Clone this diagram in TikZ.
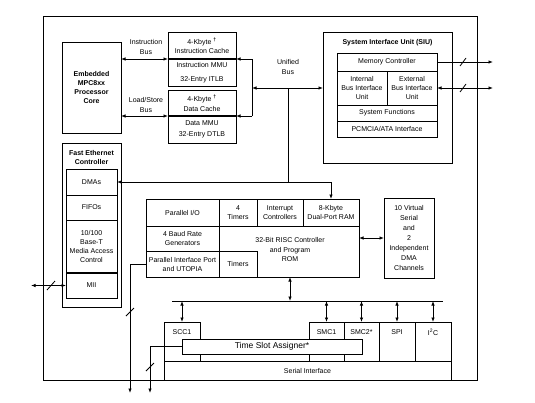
\documentclass[tikz,border=0pt]{standalone}
\usepackage{fontspec}
\setmainfont{Liberation Sans}
\usetikzlibrary{arrows.meta}
\newcommand\bx[7][]{%
  \pgfmathsetmacro\bxw{#5-(#3)}%
  \pgfmathsetmacro\bxh{#6-(#4)}%
  \pgfmathsetmacro\bxcx{(#3+#5)/2}%
  \pgfmathsetmacro\bxcy{(#4+#6)/2}%
  \node[box, minimum width=\bxw pt, minimum height=\bxh pt, #1] (#2) at (\bxcx,\bxcy) {#7};}
\begin{document}
\begin{tikzpicture}[x=1pt,y=-1pt, line width=0.8pt, font=\fontsize{7}{9}\selectfont,
 box/.style={draw, inner sep=0pt, outer sep=0pt, align=center, fill=white},
 txt/.style={inner sep=0pt, align=center},
 bld/.style={font=\fontsize{7}{9}\selectfont\bfseries},
 arr/.style={-{Latex[length=4.5pt,width=3.5pt]}},
 darr/.style={{Latex[length=4.5pt,width=3.5pt]}-{Latex[length=4.5pt,width=3.5pt]}},
 heavy/.style={line width=1.8pt}]
\useasboundingbox (0,0) rectangle (535,402);
% outer frame
\bx{frame}{43}{16}{477}{380}{}
% core
\bx[bld]{core}{62}{42}{121}{133}{Embedded\\MPC8xx\\Processor\\Core}
% caches
\bx{icache}{168}{32}{236}{59}{4-Kbyte \textsuperscript{\textbf{†}}\\Instruction Cache}
\bx[font=\fontsize{7}{14}\selectfont]{immu}{168}{59}{236}{86}{Instruction MMU\\32-Entry ITLB}
\bx[font=\fontsize{7}{10}\selectfont]{dcache}{168}{90}{236}{116}{4-Kbyte \textsuperscript{\textbf{†}}\\Data Cache}
\bx[font=\fontsize{7}{11}\selectfont]{dmmu}{168}{116}{236}{143}{Data MMU\\32-Entry DTLB}
\draw[heavy] (icache.south west) -- (icache.south east);
\draw[heavy] (dcache.south west) -- (dcache.south east);
\node[txt, font=\fontsize{7}{10}\selectfont] (ibus) at (146,47) {Instruction\\Bus};
\node[txt, font=\fontsize{7}{10}\selectfont] (lsbus) at (146,105) {Load/Store\\Bus};
\draw[darr] (core.east |- icache.south) -- (icache.south west);
\draw[darr] (core.east |- dcache.south) -- (dcache.south west);
% SIU
\bx{siu}{323}{32}{452}{163}{}
\node[txt,bld] (siut) at (387.5,43) {System Interface Unit (SIU)};
\bx{memctl}{337}{53}{437}{71}{Memory Controller}
\bx{ibiu}{337}{71}{387}{105}{Internal\\Bus Interface\\Unit}
\bx{ebiu}{387}{71}{437}{105}{External\\Bus Interface\\Unit}
\bx{sysfn}{337}{105}{437}{121}{System Functions}
\bx{pcmcia}{337}{121}{437}{137}{PCMCIA/ATA Interface}
\coordinate (mout) at (493,62);
\coordinate (eout) at (493,88);
\draw[arr] (memctl.east) -- (mout);
\draw[darr] (ebiu.east) -- (eout);
\draw (460,66) -- (466,58);
\draw (460,92) -- (466,84);
% FEC
\bx{fec}{62}{143}{121}{307}{}
\node[txt,bld] (fect) at (91.5,157.5) {Fast Ethernet\\Controller};
\bx{dmas}{66}{169}{117}{195}{DMAs}
\bx{fifos}{66}{195}{117}{220}{FIFOs}
\bx{mac}{66}{220}{117}{273}{10/100\\Base-T\\Media Access\\Control}
\bx{mii}{66}{273}{117}{298}{MII}
\draw[heavy] (mac.south west) -- (mac.south east);
\coordinate (miiout) at (31,285.5);
\draw[darr] (miiout) -- (mii.west);
\draw (47,290) -- (55,281);
% CPM
\bx{cpm}{146}{199}{359}{277}{}
\bx{pio}{146}{199}{219}{226}{Parallel I/O}
\bx{t4}{219}{199}{257}{226}{4\\Timers}
\bx{ic}{257}{199}{303}{226}{Interrupt\\Controllers}
\bx{dpram}{303}{199}{359}{226}{8-Kbyte\\Dual-Port RAM}
\bx{brg}{146}{226}{219}{251}{4 Baud Rate\\Generators}
\bx{pip}{146}{251}{219}{277}{Parallel Interface Port\\and UTOPIA}
\bx{timers}{219}{251}{257}{277}{Timers}
\node[txt, font=\fontsize{7}{9.5}\selectfont] (risc) at (290,249.5) {32-Bit RISC Controller\\and Program\\ROM};
% virtual channels
\bx[font=\fontsize{7}{10}\selectfont]{virt}{384}{198}{434}{278}{10 Virtual\\Serial\\and\\2\\Independent\\DMA\\Channels}
\draw[darr] (cpm.east) -- (virt.west);
% unified bus
\coordinate (ub1) at (252,59);
\coordinate (ub2) at (252,116);
\coordinate (ub3) at (252,88);
\coordinate (ub4) at (288,88);
\draw (ub1) -- (ub2);
\draw[arr] (ub1) -- (icache.south east);
\draw[arr] (ub2) -- (dcache.south east);
\draw[darr] (ub3) -- (siu.west |- ub3);
\coordinate (ub5) at (ub4 |- dmas.east);
\coordinate (ub6) at (dpram.north |- dmas.east);
\draw (ub4) -- (ub5);
\draw[arr] (ub6) -- (dmas.east);
\draw[arr] (ub6) -- (dpram.north);
\node[txt, font=\fontsize{7}{10}\selectfont] (ubus) at (288,67) {Unified\\Bus};
% serial bus
\coordinate (busl) at (172,301);
\coordinate (busr) at (443,301);
\draw (busl) -- (busr);
\draw[darr] (risc.south |- cpm.south) -- (risc.south |- busl);
\bx{scc1}{164}{322}{200}{361}{}
\bx{smc1}{309}{322}{344}{361}{}
\bx{smc2}{344}{322}{379}{361}{}
\bx{spi}{379}{322}{415}{361}{}
\bx{i2c}{415}{322}{451}{361}{}
\bx{si}{164}{361}{451}{380}{Serial Interface}
\node[txt] (scc1t) at (182,332) {SCC1};
\node[txt] (smc1t) at (326.5,332) {SMC1};
\node[txt] (smc2t) at (361.5,332) {SMC2*};
\node[txt] (spit) at (397,332) {SPI};
\node[txt] (i2ct) at (433,332) {I\textsuperscript{2}C};
\foreach \b in {scc1,smc1,smc2,spi,i2c}
  \draw[darr] (\b.north |- busl) -- (\b.north);
\bx[font=\fontsize{8.5}{10}\selectfont]{tsa}{182}{339}{362}{354}{Time Slot Assigner*}
% outgoing lines
\coordinate (tc) at (150,346.5);
\coordinate (tend) at (150,393);
\draw[arr] (tsa.west) -- (tc) -- (tend);
\coordinate (pc) at (130,264);
\coordinate (pend) at (130,393);
\draw[arr] (pip.west) -- (pc) -- (pend);
\draw (126,316) -- (134,308);
\draw (146,371) -- (154,363);
\end{tikzpicture}
\end{document}
